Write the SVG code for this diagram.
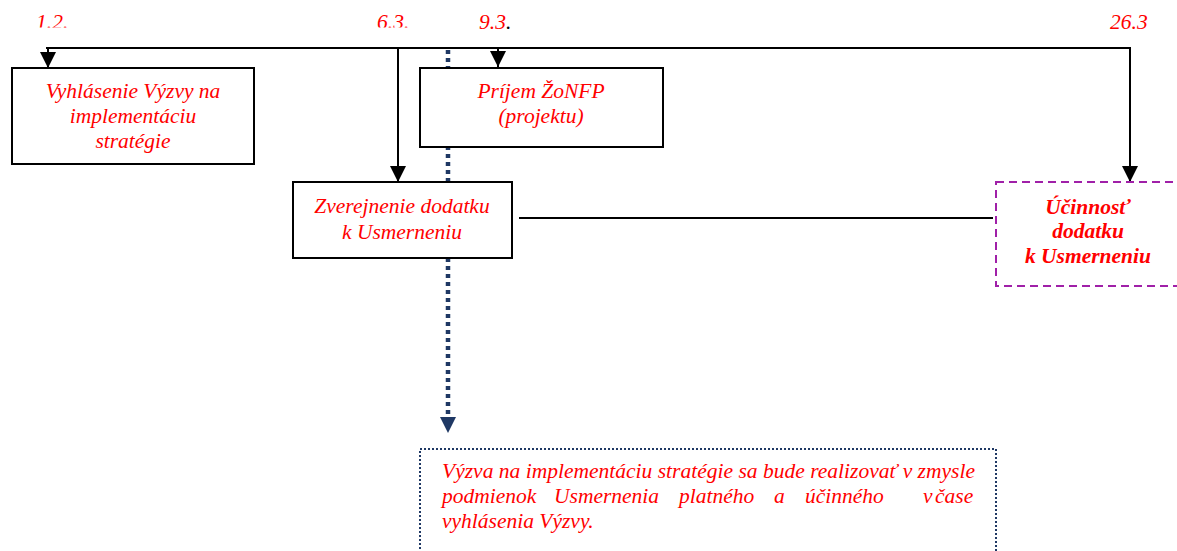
<svg xmlns="http://www.w3.org/2000/svg" width="1177" height="551" viewBox="0 0 1177 551">
<style>
.box{fill:#fff;stroke:#000;stroke-width:2}
.t{font-family:"Liberation Serif","Times New Roman",serif;font-style:italic;font-size:21.5px;fill:#ff0000}
.b{font-weight:bold}
.d{font-family:"Liberation Serif","Times New Roman",serif;font-style:italic;font-size:21.5px;fill:#ff0000}
.ln{stroke:#000;stroke-width:2;fill:none}
</style>
<defs>
<marker id="ah" viewBox="0 0 16 16" markerWidth="16" markerHeight="16" refX="16" refY="8" orient="auto" markerUnits="userSpaceOnUse">
<path d="M0,0 L16,8 L0,16 Z" fill="#000"/>
</marker>
<clipPath id="cut"><rect x="0" y="0" width="1177" height="27.5"/></clipPath>
</defs>
<rect width="1177" height="551" fill="#fff"/>
<g id="dates">
<text class="d" x="36" y="29" clip-path="url(#cut)">1.2.</text>
<text class="d" x="377" y="29" clip-path="url(#cut)">6.3.</text>
<text class="d" x="479" y="29">9.3<tspan fill="#000">.</tspan></text>
<text class="d" x="1110" y="29">26.3</text>
</g>
<g id="connectors">
<line x1="448" y1="50" x2="448" y2="418" stroke="#1f3864" stroke-width="4.5" stroke-dasharray="4,4"/>
<path d="M440,417 L456,417 L448,433 Z" fill="#1f3864"/>
<line class="ln" x1="46" y1="48" x2="1131" y2="48"/>
<line class="ln" x1="48" y1="47" x2="48" y2="68" marker-end="url(#ah)"/>
<line class="ln" x1="398" y1="47" x2="398" y2="182" marker-end="url(#ah)"/>
<line class="ln" x1="498" y1="47" x2="498" y2="67" marker-end="url(#ah)"/>
<line class="ln" x1="1130" y1="47" x2="1130" y2="182" marker-end="url(#ah)"/>
<line class="ln" x1="519" y1="218" x2="993" y2="218"/>
</g>
<g id="node-vyhlasenie">
<rect class="box" x="12" y="68" width="242" height="96"/>
<text class="t" text-anchor="middle" x="133" y="98">Vyhlásenie Výzvy na</text>
<text class="t" text-anchor="middle" x="133" y="123">implementáciu</text>
<text class="t" text-anchor="middle" x="133" y="148">stratégie</text>
</g>
<g id="node-prijem">
<rect class="box" x="420" y="68" width="243" height="79"/>
<text class="t" text-anchor="middle" x="541" y="98">Príjem ŽoNFP</text>
<text class="t" text-anchor="middle" x="541" y="123">(projektu)</text>
</g>
<g id="node-zverejnenie">
<rect class="box" x="293" y="182" width="219" height="76"/>
<text class="t" text-anchor="middle" x="402" y="213">Zverejnenie dodatku</text>
<text class="t" text-anchor="middle" x="402" y="239">k Usmerneniu</text>
</g>
<g id="node-ucinnost">
<rect x="996" y="182" width="190" height="104" fill="#fff" stroke="#a020a8" stroke-width="2" stroke-dasharray="8,5"/>
<text class="t b" text-anchor="middle" x="1088" y="214">Účinnosť</text>
<text class="t b" text-anchor="middle" x="1088" y="238">dodatku</text>
<text class="t b" text-anchor="middle" x="1088" y="263">k Usmerneniu</text>
</g>
<g id="node-vyzva">
<rect x="420" y="449" width="576" height="130" fill="#fff" stroke="#1f3864" stroke-width="2" stroke-dasharray="2,2"/>
<text class="d" x="442" y="478" textLength="533" lengthAdjust="spacing">Výzva na implementáciu stratégie sa bude  realizovať v zmysle</text>
<text class="d" y="503"><tspan x="442">podmienok</tspan><tspan x="554">Usmernenia</tspan><tspan x="679">platného</tspan><tspan x="774">a</tspan><tspan x="805">účinného</tspan><tspan x="923">v</tspan><tspan x="935">čase</tspan></text>
<text class="d" x="442" y="528">vyhlásenia Výzvy.</text>
</g>
</svg>
